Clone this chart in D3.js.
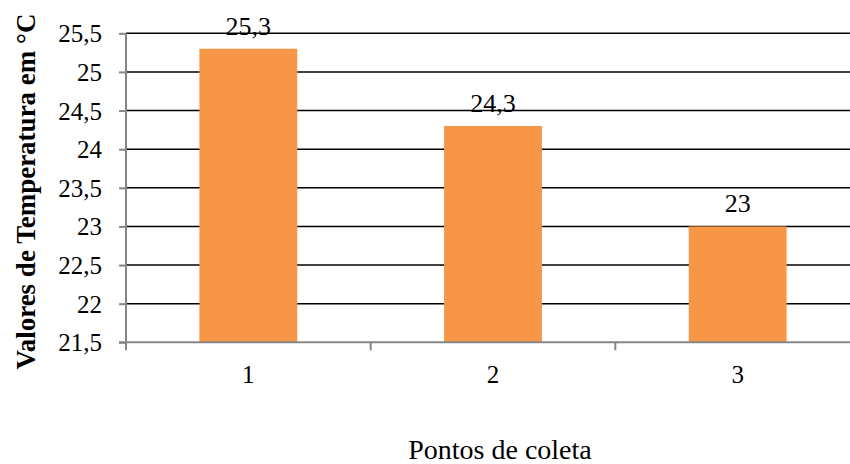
<!DOCTYPE html>
<html>
<head>
<meta charset="utf-8">
<script src="https://cdn.jsdelivr.net/npm/d3@7"></script>
<style>
  html, body { margin: 0; padding: 0; background: #fff; }
  svg { display: block; }
  text { font-family: "Liberation Serif", "Times New Roman", serif; fill: #000; }
</style>
</head>
<body>
<svg id="chart" width="850" height="464" font-family="Liberation Serif, serif"></svg>
<script>
// Temperature at each collection point
const categories = ["1", "2", "3"];
const values = [25.3, 24.3, 23];
const valueLabels = ["25,3", "24,3", "23"];
const yTicks = [21.5, 22, 22.5, 23, 23.5, 24, 24.5, 25, 25.5];
const yTickLabels = ["21,5", "22", "22,5", "23", "23,5", "24", "24,5", "25", "25,5"];

const svg = d3.select("#chart");
const plotLeft = 126, plotRight = 860, plotTop = 33.3, plotBottom = 342.3;
const serif = "Liberation Serif, Times New Roman, serif";

const x = d3.scaleBand().domain(categories).range([plotLeft, plotRight]).paddingInner(0.6).paddingOuter(0.3);
const xBand = d3.scaleBand().domain(categories).range([plotLeft, plotRight]);
const y = d3.scaleLinear().domain([21.5, 25.5]).range([plotBottom, plotTop]);

// horizontal gridlines
svg.append("g").selectAll("line")
  .data(yTicks.filter(t => t > 21.5))
  .join("line")
  .attr("x1", plotLeft).attr("x2", plotRight)
  .attr("y1", d => y(d)).attr("y2", d => y(d))
  .attr("stroke", "#000").attr("stroke-width", 1.6);

// bars
svg.append("g").selectAll("rect")
  .data(values)
  .join("rect")
  .attr("x", (d, i) => x(categories[i]))
  .attr("width", x.bandwidth())
  .attr("y", d => y(d))
  .attr("height", d => plotBottom - y(d))
  .attr("fill", "#F79646");

// value labels
svg.append("g").selectAll("text")
  .data(values)
  .join("text")
  .attr("x", (d, i) => x(categories[i]) + x.bandwidth() / 2)
  .attr("y", d => y(d) - 14)
  .attr("text-anchor", "middle")
  .attr("font-family", serif)
  .attr("font-size", 26)
  .text((d, i) => valueLabels[i]);

// y axis
const yAxis = d3.axisLeft(y).tickValues(yTicks).tickSize(7).tickPadding(17)
  .tickFormat((d, i) => yTickLabels[i]);
const gy = svg.append("g").attr("transform", `translate(${plotLeft},0)`).call(yAxis)
  .attr("font-family", serif);
gy.select(".domain").attr("stroke", "#868686").attr("stroke-width", 2)
  .attr("d", `M0,${plotTop}V${plotBottom + 8}`);
gy.selectAll(".tick line").attr("stroke", "#868686").attr("stroke-width", 2);
gy.selectAll(".tick text").attr("font-size", 25)
  .attr("font-family", serif).attr("dy", "0.34em");

// x axis with ticks at band edges
const gx = svg.append("g");
gx.append("line").attr("x1", plotLeft - 7).attr("x2", plotRight)
  .attr("y1", plotBottom).attr("y2", plotBottom)
  .attr("stroke", "#868686").attr("stroke-width", 2);
gx.selectAll("line.tk")
  .data(categories)
  .join("line").attr("class", "tk")
  .attr("x1", d => xBand(d) + xBand.step())
  .attr("x2", d => xBand(d) + xBand.step())
  .attr("y1", plotBottom).attr("y2", plotBottom + 8)
  .attr("stroke", "#868686").attr("stroke-width", 2);
gx.selectAll("text")
  .data(categories)
  .join("text")
  .attr("x", d => xBand(d) + xBand.bandwidth() / 2)
  .attr("y", 383)
  .attr("text-anchor", "middle")
  .attr("font-family", serif)
  .attr("font-size", 25)
  .text(d => d);

// axis titles
svg.append("text")
  .attr("x", 500).attr("y", 459)
  .attr("text-anchor", "middle")
  .attr("font-family", serif)
  .attr("font-size", 28)
  .text("Pontos de coleta");

svg.append("text")
  .attr("transform", "translate(35,191.5) rotate(-90)")
  .attr("text-anchor", "middle")
  .attr("font-family", serif)
  .attr("font-size", 27)
  .attr("font-weight", "bold")
  .text("Valores de Temperatura em °C");
</script>
</body>
</html>
